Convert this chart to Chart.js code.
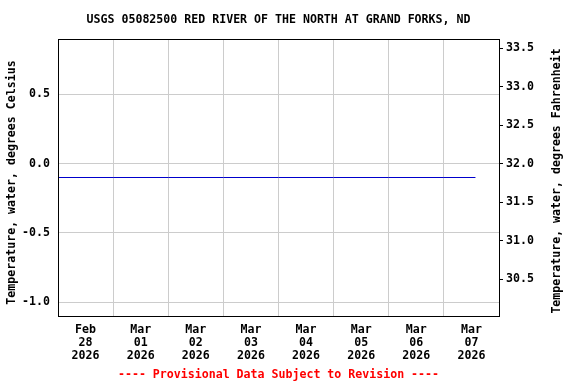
<!DOCTYPE html>
<html>
<head>
<meta charset="utf-8">
<script src="https://cdn.jsdelivr.net/npm/chart.js@4/dist/chart.umd.min.js"></script>
<style>
html,body{margin:0;padding:0;background:#fff;}
#wrap{width:576px;height:384px;}
</style>
</head>
<body>
<div id="wrap"><canvas id="c" width="576" height="384"></canvas></div>
<script>
// ---- data ----
const titleText = "USGS 05082500 RED RIVER OF THE NORTH AT GRAND FORKS, ND";
const footerText = "---- Provisional Data Subject to Revision ----";
const leftAxisTitle = "Temperature, water, degrees Celsius";
const rightAxisTitle = "Temperature, water, degrees Fahrenheit";

const obsTimes = ["2026-02-28T00:00","2026-03-01T00:00","2026-03-02T00:00","2026-03-03T00:00",
                  "2026-03-04T00:00","2026-03-05T00:00","2026-03-06T00:00","2026-03-07T00:00","2026-03-07T13:45"];
const tempC = [-0.1,-0.1,-0.1,-0.1,-0.1,-0.1,-0.1,-0.1,-0.1];

const tickDates = ["2026-02-28","2026-03-01","2026-03-02","2026-03-03","2026-03-04","2026-03-05","2026-03-06","2026-03-07"];
const tickMonths = ["Feb","Mar","Mar","Mar","Mar","Mar","Mar","Mar"];
const tickDayNums = ["28","01","02","03","04","05","06","07"];
const tickYears = ["2026","2026","2026","2026","2026","2026","2026","2026"];

const celsiusTicks = [0.5, 0.0, -0.5, -1.0];
const fahrenheitTicks = [30.5, 31.0, 31.5, 32.0, 32.5, 33.0, 33.5];
const celsiusMin = -1.1, celsiusMax = 0.9;
const startDate = "2026-02-28T00:00", endDate = "2026-03-08T00:00";

// ---- helpers ----
const t0 = Date.parse(startDate + "Z");
const toDays = s => (Date.parse((s.length === 10 ? s + "T12:00" : s) + "Z") - t0) / 86400000;
const c2f = c => c * 1.8 + 32;

const FONT = '"DejaVu Sans Mono", "Liberation Mono", monospace';
const tickFont = {family: FONT, size: 11.6, weight: 'bold', lineHeight: '13px'};

const framePlugin = {
  id: 'frame',
  afterDraw(chart) {
    const ctx = chart.ctx, a = chart.chartArea;
    ctx.save();
    ctx.strokeStyle = '#000';
    ctx.lineWidth = 1;
    ctx.strokeRect(Math.round(a.left) + 0.5, Math.round(a.top) + 0.5,
                   Math.round(a.right - a.left), Math.round(a.bottom - a.top));
    ctx.font = 'bold 11.6px ' + FONT;
    ctx.fillStyle = '#000';
    ctx.textAlign = 'center';
    ctx.textBaseline = 'middle';
    ctx.fillText(titleText, (a.left + a.right) / 2, 20);
    ctx.fillStyle = '#ff0000';
    ctx.fillText(footerText, (a.left + a.right) / 2, 375);
    ctx.fillStyle = '#000';
    ctx.translate(12, 182.5);
    ctx.rotate(-Math.PI / 2);
    ctx.fillText(leftAxisTitle, 0, 0);
    ctx.restore();
    ctx.save();
    ctx.font = 'bold 11.6px ' + FONT;
    ctx.fillStyle = '#000';
    ctx.textAlign = 'center';
    ctx.textBaseline = 'middle';
    ctx.translate(557, 181);
    ctx.rotate(-Math.PI / 2);
    ctx.fillText(rightAxisTitle, 0, 0);
    ctx.restore();
  }
};

new Chart(document.getElementById('c'), {
  type: 'line',
  data: {
    datasets: [{
      data: obsTimes.map((t, i) => ({x: toDays(t), y: tempC[i]})),
      borderColor: '#0000cc',
      borderWidth: 1,
      pointRadius: 0,
      tension: 0,
      xAxisID: 'x',
      yAxisID: 'y'
    }]
  },
  options: {
    responsive: false,
    animation: false,
    devicePixelRatio: 1,
    layout: {padding: {top: 39, left: 0, right: 0, bottom: 0}},
    plugins: {legend: {display: false}, tooltip: {enabled: false}, title: {display: false}},
    scales: {
      x: {
        type: 'linear',
        position: 'bottom',
        min: 0,
        max: toDays(endDate),
        afterFit: s => { s.height = 68; },
        afterBuildTicks: s => { s.ticks = tickDates.map(d => ({value: toDays(d)})); },
        border: {display: false},
        grid: {color: '#cccccc', drawTicks: false, offset: true, lineWidth: 1},
        ticks: {
          autoSkip: false, maxRotation: 0, minRotation: 0, padding: 7,
          color: '#000', font: tickFont,
          callback: (v, i) => [tickMonths[i], tickDayNums[i], tickYears[i]]
        }
      },
      y: {
        type: 'linear',
        position: 'left',
        min: celsiusMin,
        max: celsiusMax,
        afterFit: s => { s.width = 58; },
        afterBuildTicks: s => { s.ticks = celsiusTicks.map(v => ({value: v})); },
        border: {display: false},
        grid: {color: '#cccccc', drawTicks: false, lineWidth: 1},
        ticks: {padding: 8, color: '#000', font: tickFont, callback: v => v.toFixed(1)}
      },
      y2: {
        type: 'linear',
        position: 'right',
        min: c2f(celsiusMin),
        max: c2f(celsiusMax),
        afterFit: s => { s.width = 77; },
        afterBuildTicks: s => { s.ticks = fahrenheitTicks.map(v => ({value: v})); },
        border: {display: false},
        grid: {drawOnChartArea: false, drawTicks: true, tickLength: 4, color: '#000', lineWidth: 1},
        ticks: {padding: 3, color: '#000', font: tickFont, callback: v => v.toFixed(1)}
      }
    }
  },
  plugins: [framePlugin]
});
</script>
</body>
</html>
